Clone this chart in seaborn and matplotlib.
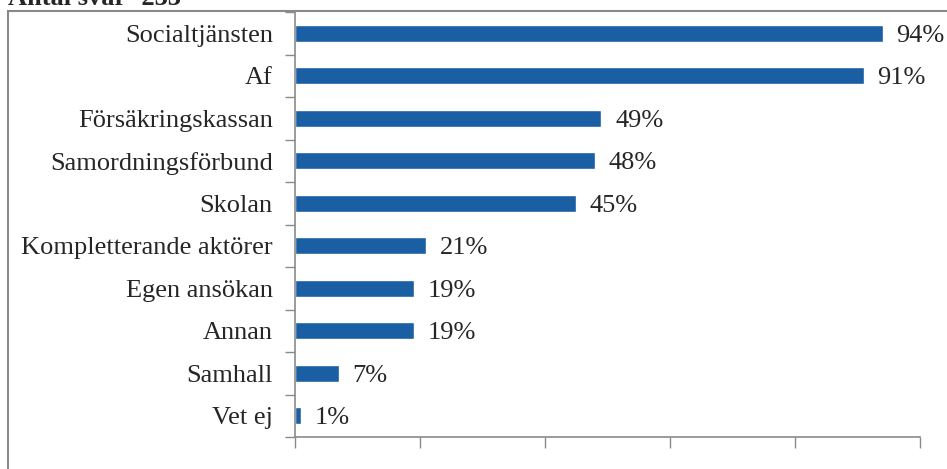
import numpy as np
import pandas as pd
import matplotlib.pyplot as plt
import seaborn as sns
from matplotlib.patches import Rectangle

categories = ["Socialtjänsten", "Af", "Försäkringskassan", "Samordningsförbund", "Skolan",
              "Kompletterande aktörer", "Egen ansökan", "Annan", "Samhall", "Vet ej"]
percent = [94, 91, 49, 48, 45, 21, 19, 19, 7, 1]
title_text = "Antal svar=233"

df = pd.DataFrame({"Kategori": categories, "Andel": percent})

sns.set_style("white")
plt.rcParams["font.family"] = ["Liberation Serif", "DejaVu Serif"]

fig = plt.figure(figsize=(9.47, 4.69), dpi=100)
ax = fig.add_axes([295/947, 1-437/469, 625/947, 425/469])

sns.barplot(data=df, x="Andel", y="Kategori", orient="h", color="#1a5ea3",
            saturation=1, width=0.4, ax=ax)

ax.set_xlim(0, 100)
ax.set_ylim(len(categories) - 0.5, -0.5)
ax.set_xticks([0, 20, 40, 60, 80, 100])
ax.set_xticklabels([])
ax.set_yticks(range(len(categories)))
ax.set_yticklabels(categories, fontsize=19)
ax.set_yticks(np.arange(-0.5, len(categories)), minor=True)
ax.tick_params(axis="y", which="major", length=0, pad=16)
ax.tick_params(axis="y", which="minor", length=7, width=1, color="#8a8a8a", direction="out", left=True)
ax.tick_params(axis="x", length=8, width=1, color="#8a8a8a", direction="out", bottom=True)
ax.set_xlabel("")
ax.set_ylabel("")

for side in ["top", "right"]:
    ax.spines[side].set_visible(False)
for side in ["left", "bottom"]:
    ax.spines[side].set_color("#8a8a8a")
    ax.spines[side].set_linewidth(1.2)

for i, v in enumerate(percent):
    ax.text(v + 2.2, i + 0.06, f"{v}%", va="center", ha="left", fontsize=19)

# chart frame
fig.patches.append(Rectangle((8/947, -0.2), 1.0, 1 - 11/469 + 0.2, transform=fig.transFigure,
                             fill=False, edgecolor="#8a8a8a", linewidth=1.5))
fig.text(8/947, 1 - 5/469, title_text, fontsize=19, fontweight="bold", va="baseline", ha="left")

fig.savefig("out.png", dpi=100)
